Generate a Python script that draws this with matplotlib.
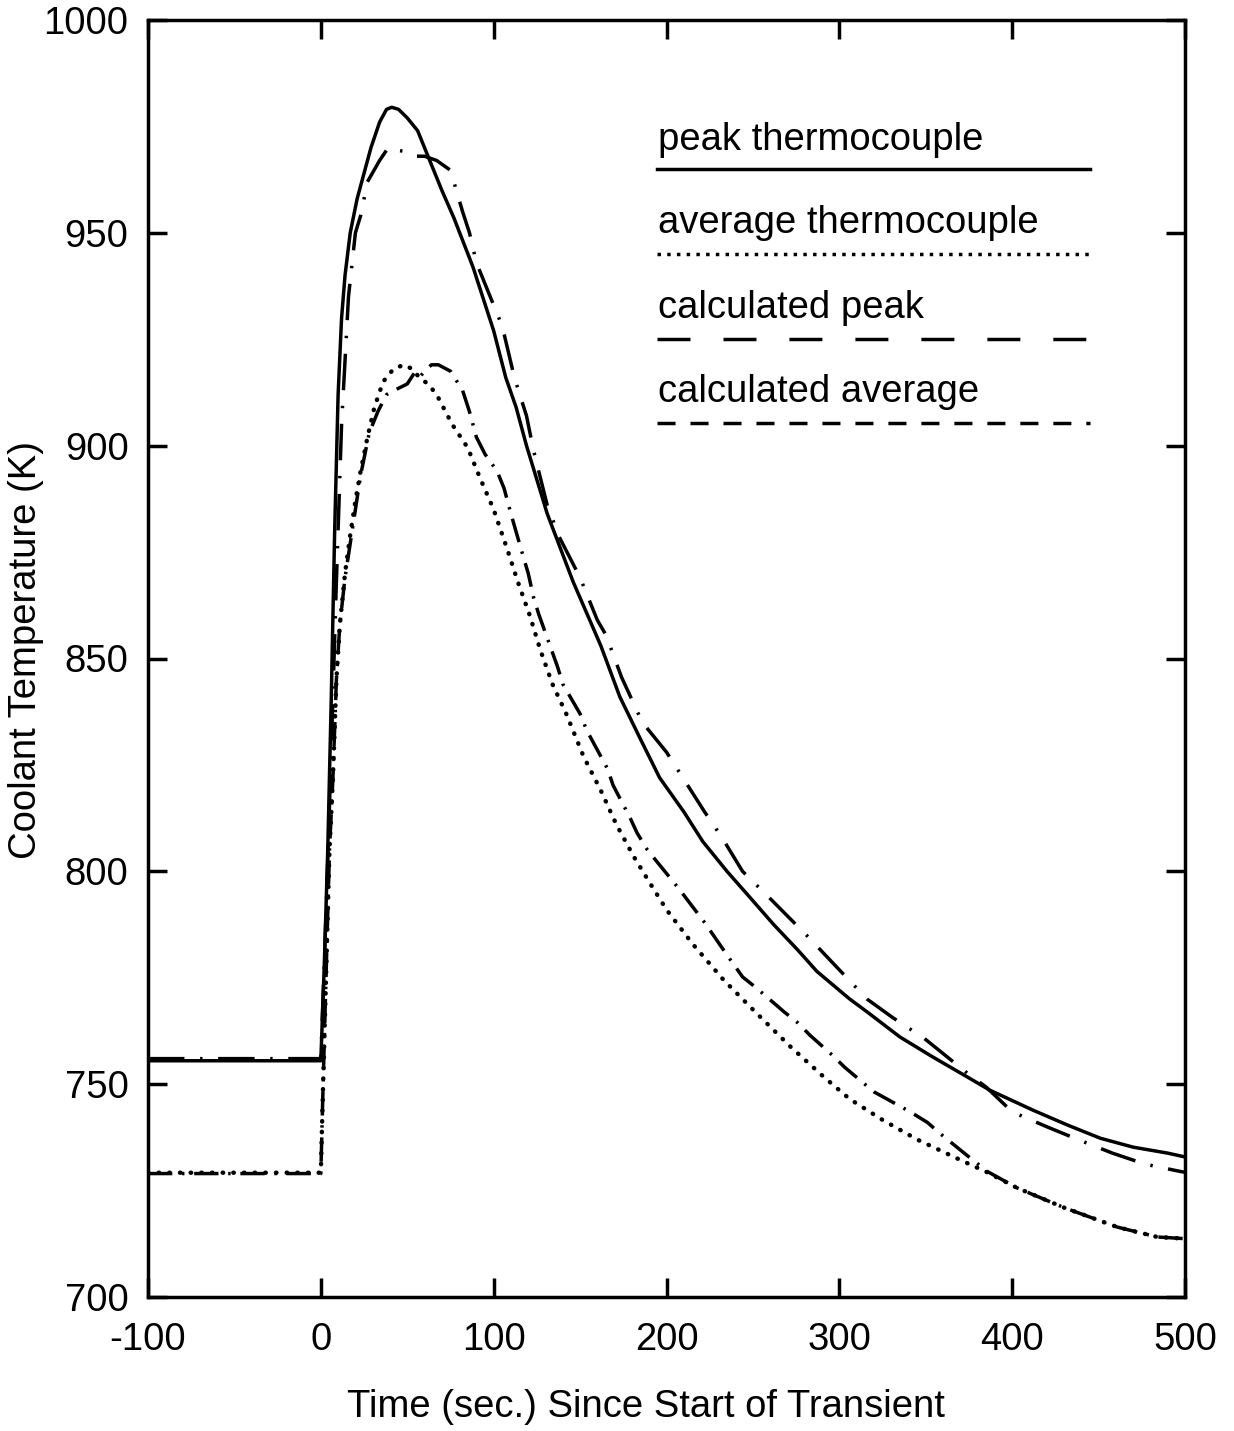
import matplotlib
matplotlib.use("Agg")
import matplotlib.pyplot as plt

plt.rcParams['font.family'] = ['Liberation Sans', 'DejaVu Sans']
plt.rcParams['axes.unicode_minus'] = False

# ---- data ----
peak_tc_t = [-100, 0, 2, 4, 6, 8, 10, 12, 14, 17, 21, 25, 29, 34, 38, 41, 45, 50, 56, 62, 70, 77, 88,
             100, 107, 113, 119, 131, 146, 162, 173, 185, 196, 210, 221, 235, 248, 262, 276, 287, 306,
             316, 335, 354, 374, 387, 412, 432, 451, 470, 490, 500]
peak_tc_T = [755.5, 755.5, 778, 805, 840, 880, 912, 930, 940, 950, 958, 964, 970, 976, 979, 979.5, 979,
             977, 974, 968, 960, 953.5, 942, 927, 916, 909, 900, 884, 868, 853, 841, 831, 822, 814, 807,
             800, 794, 787.5, 781.5, 776.5, 770, 767, 761.1, 756.4, 751.7, 748.6, 743.9, 740.4, 737.3,
             735.2, 733.8, 732.9]

avg_tc_t = [-100, 0, 1, 3, 5, 7, 9, 11, 14, 17, 20, 23, 27, 31, 36, 42, 48, 53, 57, 62, 67, 76, 85, 92,
            100, 108, 114, 121, 127, 134, 142, 152, 162, 171, 181, 190, 200, 215, 233, 252, 272, 291,
            306, 325, 345, 370, 385, 403, 430, 461, 484, 500]
avg_tc_T = [729.2, 729.2, 745, 775, 805, 822, 845, 858, 870, 879, 887, 894, 902, 909, 915, 918, 919,
            918, 916, 914.5, 912, 905, 899.5, 892.5, 885, 875.5, 868, 860, 852, 844, 837, 827, 819, 811,
            803.5, 797.5, 791, 783, 774.5, 766.7, 758.7, 751.7, 746.5, 741.6, 737, 732.2, 729.4, 725.6,
            721, 716.4, 714.1, 713.7]

calc_peak_t = [-100, 0, 3, 6, 9, 12, 16, 20, 23, 27, 34, 39, 43, 50, 55, 60, 67, 75, 82, 86, 90, 97,
               105, 112, 119, 123, 131, 138, 150, 160, 165, 174, 186, 200, 211, 222, 232, 244, 259, 281,
               295, 316, 331, 349, 374, 385, 400, 420, 438, 458, 477, 496, 500]
calc_peak_T = [756, 756, 790, 828, 868, 905, 935, 950, 954, 962, 967, 970, 969.5, 969, 968, 968, 967,
               964.7, 955, 950, 943, 936, 928, 916, 907, 899, 886, 878.5, 869, 859, 855.5, 845.6, 835,
               828, 821, 814, 808, 800, 794, 785, 779, 770, 765.6, 760.8, 752.6, 749.3, 743.5, 740, 737,
               733.8, 731.2, 729.6, 729.3]

calc_avg_t = [-100, 0, 1, 3, 5, 7, 9, 11, 14, 17, 20, 23, 28, 33, 38, 45, 50, 54, 57, 60, 64, 68, 75,
              82, 86, 90, 95, 102, 106, 110, 116, 120, 123, 126, 137, 140, 150, 154, 166, 169, 179, 183,
              189, 195, 207, 222, 231, 237, 244, 252, 260, 268, 276, 283, 296, 303, 320, 341, 351, 358,
              368, 375, 386, 403, 430, 461, 484, 500]
calc_avg_T = [729, 729, 745, 775, 805, 822, 845, 858, 869, 877, 885, 893, 903, 908, 912, 913.5, 914.5,
              917, 916, 917.5, 919, 919, 917.5, 913, 908, 902, 898, 894, 890, 884, 875.5, 870, 864.5,
              860.5, 848, 844, 837, 833, 824, 820.3, 812.5, 809, 805, 802, 796, 788, 782.7, 779.2, 775.2,
              772.6, 769.8, 767, 764.4, 761.5, 756.8, 754, 748.2, 743.5, 741, 738.5, 735.2, 732.9, 729.4,
              725.6, 721, 716.4, 714.1, 713.7]

legend_labels = ["peak thermocouple", "average thermocouple", "calculated peak", "calculated average"]
x_ticks = [-100, 0, 100, 200, 300, 400, 500]
y_ticks = [700, 750, 800, 850, 900, 950, 1000]

# ---- figure ----
W, H = 1234, 1431
fig = plt.figure(figsize=(W / 100, H / 100), dpi=100)
ax = fig.add_axes([148 / W, 1 - 1297 / H, (1185 - 148) / W, (1297 - 20) / H])

LW = 2.5
FS = 27.5

styles = [
    dict(color='black', lw=LW, linestyle='-'),
    dict(color='black', lw=3.2, linestyle=(0, (0.1, 2.3)), dash_capstyle='round'),
    dict(color='black', lw=LW, linestyle=(0, (10.5, 4.5, 0.7, 4.5))),
    dict(color='black', lw=LW, linestyle=(0, (7, 2.8, 0.7, 2.8))),
]
series = [(peak_tc_t, peak_tc_T), (avg_tc_t, avg_tc_T), (calc_peak_t, calc_peak_T), (calc_avg_t, calc_avg_T)]
for (t, T), st in zip(series, styles):
    ax.plot(t, T, **st)

ax.set_xlim(-100, 500)
ax.set_ylim(700, 1000)
ax.set_xticks(x_ticks)
ax.set_yticks(y_ticks)
ax.tick_params(direction='in', length=14, width=LW, top=True, right=True, labelsize=FS)
ax.tick_params(axis='x', pad=18)
ax.tick_params(axis='y', pad=14)
for s in ax.spines.values():
    s.set_linewidth(LW)

ax.set_xlabel("Time (sec.) Since Start of Transient", fontsize=FS)
ax.xaxis.set_label_coords(0.480, -0.072)
ax.set_ylabel("Coolant Temperature (K)", fontsize=FS)
ax.yaxis.set_label_coords(-0.100, 0.507)

# manual legend (text above a line sample)
text_y = [0.8982, 0.8332, 0.7666, 0.7009]
line_y = [0.8833, 0.8168, 0.7502, 0.6844]
leg_styles = [
    dict(color='black', lw=LW, linestyle='-'),
    dict(color='black', lw=LW, linestyle=(0, (1.0, 1.8))),
    dict(color='black', lw=LW, linestyle=(0, (9.5, 9.5))),
    dict(color='black', lw=LW, linestyle=(0, (5.2, 4.3))),
]
for lab, ty, ly, st in zip(legend_labels, text_y, line_y, leg_styles):
    ax.text(0.492, ty, lab, transform=ax.transAxes, fontsize=FS, va='baseline', ha='left')
    ax.plot([0.4908, 0.9084], [ly, ly], transform=ax.transAxes, **st)

fig.savefig("out.png", dpi=100)
